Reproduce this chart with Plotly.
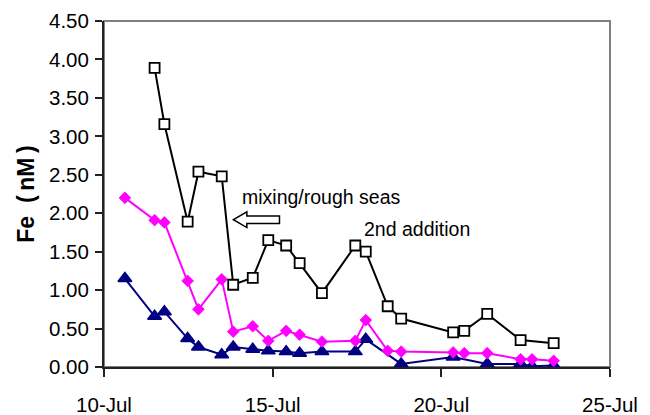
import pandas as pd
import plotly.graph_objects as go

# ---- data (day-of-July, fractional) ----
sq_days = [11.50, 11.79, 12.48, 12.80, 13.49, 13.83, 14.41, 14.87, 15.40, 15.80,
           16.46, 17.45, 17.76, 18.41, 18.81, 20.35, 20.68, 21.36, 22.35, 23.33]
sq_fe = [3.89, 3.16, 1.89, 2.54, 2.48, 1.07, 1.16, 1.65, 1.58, 1.35,
         0.96, 1.58, 1.50, 0.79, 0.63, 0.45, 0.47, 0.69, 0.35, 0.31]

dm_days = [10.62, 11.50, 11.79, 12.48, 12.80, 13.49, 13.83, 14.41, 14.87, 15.40, 15.80,
           16.46, 17.45, 17.76, 18.41, 18.81, 20.35, 20.68, 21.36, 22.35, 22.69, 23.33]
dm_fe = [2.20, 1.91, 1.88, 1.12, 0.75, 1.14, 0.46, 0.53, 0.34, 0.47, 0.42,
         0.33, 0.34, 0.61, 0.21, 0.20, 0.19, 0.18, 0.18, 0.10, 0.10, 0.08]

tr_days = [10.62, 11.50, 11.79, 12.48, 12.80, 13.49, 13.83, 14.41, 14.87, 15.40,
           15.80, 16.46, 17.45, 17.76, 18.81, 20.35, 21.36, 22.35, 22.69, 23.33]
tr_fe = [1.15, 0.66, 0.72, 0.37, 0.26, 0.16, 0.26, 0.23, 0.21, 0.20,
         0.18, 0.20, 0.20, 0.36, 0.04, 0.13, 0.04, 0.04, 0.01, 0.02]

x_start = "2001-07-10"
x_end = "2001-07-25"
y_ticks = [0.0, 0.5, 1.0, 1.5, 2.0, 2.5, 3.0, 3.5, 4.0, 4.5]

base = pd.Timestamp("2001-07-01")


def to_dates(days):
    return [base + pd.Timedelta(days=d - 1) for d in days]


FONT = "Liberation Sans, Arial, sans-serif"
DAY_MS = 86400000

fig = go.Figure()
fig.add_trace(go.Scatter(
    x=to_dates(tr_days), y=tr_fe, mode="lines+markers",
    line=dict(color="#000080", width=2),
    marker=dict(symbol="triangle-up", size=12, color="#000080",
                line=dict(color="#000080", width=1.5)),
))
fig.add_trace(go.Scatter(
    x=to_dates(dm_days), y=dm_fe, mode="lines+markers",
    line=dict(color="#FF00FF", width=2),
    marker=dict(symbol="diamond", size=9, color="#FF00FF",
                line=dict(color="#FF00FF", width=0.8)),
))
fig.add_trace(go.Scatter(
    x=to_dates(sq_days), y=sq_fe, mode="lines+markers",
    line=dict(color="black", width=2),
    marker=dict(symbol="square", size=10, color="white",
                line=dict(color="black", width=1.8)),
))

# hollow left arrow (paper coords)
tip_x, back_x, end_x = 0.2558, 0.2823, 0.3468
mid_y, head_h, shaft_h = 0.4257, 0.0226, 0.0110
arrow_path = (f"M{tip_x},{mid_y} L{back_x},{mid_y + head_h} L{back_x},{mid_y + shaft_h} "
              f"L{end_x},{mid_y + shaft_h} L{end_x},{mid_y - shaft_h} L{back_x},{mid_y - shaft_h} "
              f"L{back_x},{mid_y - head_h} Z")

fig.update_layout(
    width=642, height=407,
    margin=dict(l=96, r=40, t=13, b=48),
    paper_bgcolor="white", plot_bgcolor="white",
    showlegend=False,
    font=dict(family=FONT, size=20, color="black"),
    xaxis=dict(
        type="date", range=[x_start, x_end], tick0=x_start, dtick=5 * DAY_MS,
        tickformat="%-d-%b", ticks="outside", ticklen=8, tickwidth=1.5,
        tickcolor="#222", showline=True, linecolor="#222", linewidth=2,
        showgrid=False, zeroline=False, ticklabelstandoff=10, automargin=False,
        tickfont=dict(family=FONT, size=20.5),
    ),
    xaxis2=dict(
        type="date", range=[x_start, x_end], overlaying="x", anchor="y",
        tick0=x_start, dtick=DAY_MS, ticks="inside", ticklen=5, tickwidth=1.2,
        tickcolor="#222", showticklabels=False, showline=False,
        showgrid=False, zeroline=False, automargin=False,
    ),
    yaxis=dict(
        range=[0, 4.5], tickvals=y_ticks, tickformat=".2f",
        ticks="outside", ticklen=7, tickwidth=1.5, tickcolor="#222",
        showline=True, linecolor="#222", linewidth=2,
        showgrid=False, zeroline=False, ticklabelstandoff=2, automargin=False,
        tickfont=dict(family=FONT, size=20.5),
        title=dict(text="<b>Fe\u00a0\u00a0(\u2009nM\u2009)</b>",
                   font=dict(family=FONT, size=23), standoff=8),
    ),
    yaxis2=dict(
        range=[0, 4.5], tickvals=y_ticks, overlaying="y", anchor="x", side="left",
        ticks="inside", ticklen=6, tickwidth=1.5, tickcolor="#222",
        showticklabels=False, showline=False, showgrid=False, zeroline=False,
        automargin=False,
    ),
    shapes=[
        dict(type="rect", xref="paper", yref="paper", x0=0, x1=1, y0=0, y1=1,
             line=dict(color="#808080", width=2), layer="below"),
        dict(type="path", xref="paper", yref="paper", path=arrow_path,
             line=dict(color="black", width=1.5), fillcolor="white"),
    ],
    annotations=[
        dict(text="mixing/rough seas", xref="paper", yref="paper", x=0.429, y=0.491,
             showarrow=False, font=dict(family=FONT, size=19.5)),
        dict(text="2nd addition", xref="paper", yref="paper", x=0.619, y=0.398,
             showarrow=False, font=dict(family=FONT, size=19.5)),
    ],
)

fig.write_html("out.html")
